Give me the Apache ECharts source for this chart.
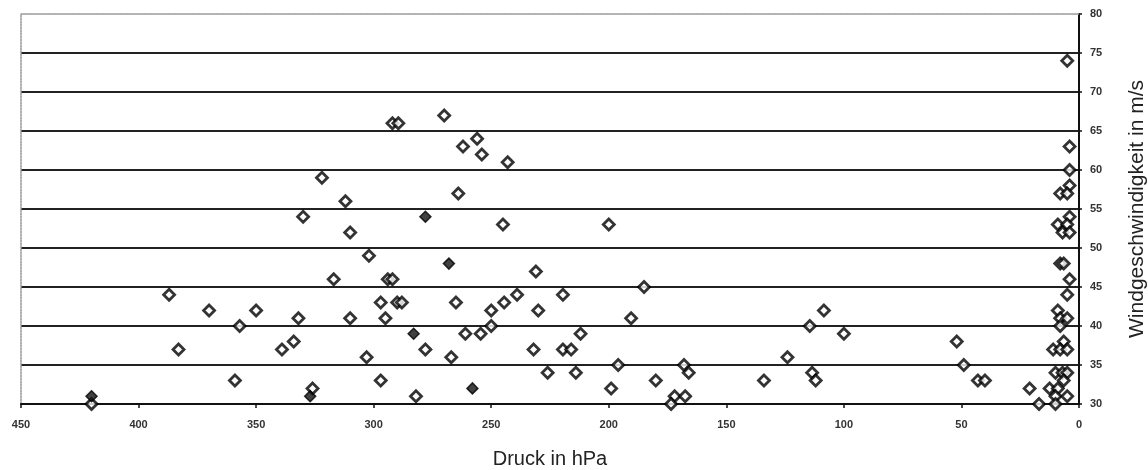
<!DOCTYPE html>
<html>
<head>
<meta charset="utf-8">
<script src="https://cdn.jsdelivr.net/npm/echarts@6/dist/echarts.min.js"></script>
<style>
html,body{margin:0;padding:0;background:#fff;}
#chart{width:1148px;height:470px;}
</style>
</head>
<body>
<div id="chart"></div>
<script>
// Druck (hPa), Windgeschwindigkeit (m/s) — open diamond markers
const openPoints = [
  [387,44],[370,42],[350,42],[357,40],[332,41],[383,37],[339,37],[334,38],[359,33],[420,30],
  [270,67],[292,66],[289.5,66],[256,64],[262,63],[254,62],[243,61],[322,59],[264,57],[312,56],
  [330,54],[245,53],[310,52],[302,49],[231,47],[317,46],[294,46],[292,46],[239,44],[219.5,44],
  [297,43],[290,43],[288,43],[265,43],[244.5,43],[250,42],[230,42],[310,41],[295,41],[250,40],
  [261,39],[254.5,39],[212,39],[278,37],[232,37],[219.5,37],[216,37],[303,36],[267,36],[297,33],
  [226,34],[214,34],[326,32],[282,31],
  [200,53],[185,45],[190.5,41],[196,35],[199,32],[180,33],[168,35],[166,34],[172,31],[167.5,31],
  [173.5,30],[134,33],[124,36],[108.5,42],[114.5,40],[100,39],[113.5,34],[112,33],
  [52,38],[49,35],[43,33],[40,33],[21,32],[17,30],
  [5,74],[4,63],[4,60],[4,58],[8,57],[5,57],[4,54],[9,53],[5,53],[7,52],[4,52],[8,48],[6.5,48],
  [4,46],[5,44],[9,42],[8,41],[5,41],[8,40],[6.5,38],[11,37],[8,37],[5,37],[10,34],[7,34],[5,34],
  [6.5,33],[12.5,32],[9,32],[10,31],[5,31],[10,30]
];
// filled (dark) markers
const filledPoints = [[420,31],[278,54],[268,48],[258,32],[283,39],[327,31]];

const xTitle = 'Druck in hPa';
const yTitle = 'Windgeschwindigkeit in m/s';
const xMin = 0, xMax = 450, xStep = 50;
const yMin = 30, yMax = 80, yStep = 5;

const chart = echarts.init(document.getElementById('chart'), null, {renderer:'canvas'});
const tickFont = {fontFamily:'Liberation Sans, Arial, sans-serif', fontSize:11, fontWeight:'bold', color:'#333'};
const titleFont = {fontFamily:'Liberation Sans, Arial, sans-serif', fontSize:20, color:'#222'};
const titleFontV = {fontFamily:'Liberation Sans, Arial, sans-serif', fontSize:21, color:'#222'};

chart.setOption({
  animation:false,
  backgroundColor:'#fff',
  grid:{left:21, right:69, top:14, bottom:66, containLabel:false, outerBoundsMode:'none'},
  xAxis:[{
    type:'value', min:xMin, max:xMax, interval:xStep, inverse:true,
    position:'bottom',
    name:xTitle, nameLocation:'middle', nameGap:45, nameTextStyle:titleFont,
    axisLine:{show:true, onZero:false, lineStyle:{color:'#111', width:2}},
    axisTick:{show:true, length:4, lineStyle:{color:'#111', width:1.5}},
    axisLabel:Object.assign({margin:15}, tickFont),
    splitLine:{show:false}
  },{
    type:'value', min:xMin, max:xMax, interval:xStep, inverse:true,
    position:'top',
    axisLine:{show:true, onZero:false, lineStyle:{color:'#999', width:1.5, type:[2,1]}},
    axisTick:{show:false}, axisLabel:{show:false}, splitLine:{show:false}
  }],
  yAxis:[{
    type:'value', min:yMin, max:yMax, interval:yStep,
    position:'right',
    name:yTitle, nameLocation:'middle', nameGap:48, nameRotate:90, nameTextStyle:titleFontV,
    axisLine:{show:true, onZero:false, lineStyle:{color:'#111', width:2}},
    axisTick:{show:true, length:3, lineStyle:{color:'#111', width:1.5}},
    axisLabel:Object.assign({margin:11}, tickFont),
    splitLine:{show:true, showMinLine:false, showMaxLine:false, lineStyle:{color:'#222', width:2}}
  },{
    type:'value', min:yMin, max:yMax, interval:yStep,
    position:'left',
    axisLine:{show:true, onZero:false, lineStyle:{color:'#999', width:1.5, type:[2,1]}},
    axisTick:{show:false}, axisLabel:{show:false}, splitLine:{show:false}
  }],
  series:[{
    type:'scatter', name:'open', xAxisIndex:0, yAxisIndex:0,
    data:openPoints, symbol:'diamond', symbolSize:11,
    itemStyle:{color:'#fff', borderColor:'#000', borderWidth:2.8}
  },{
    type:'scatter', name:'filled', xAxisIndex:0, yAxisIndex:0,
    data:filledPoints, symbol:'diamond', symbolSize:11,
    itemStyle:{color:'#111', borderColor:'#000', borderWidth:1.5}
  }]
});
</script>
</body>
</html>
